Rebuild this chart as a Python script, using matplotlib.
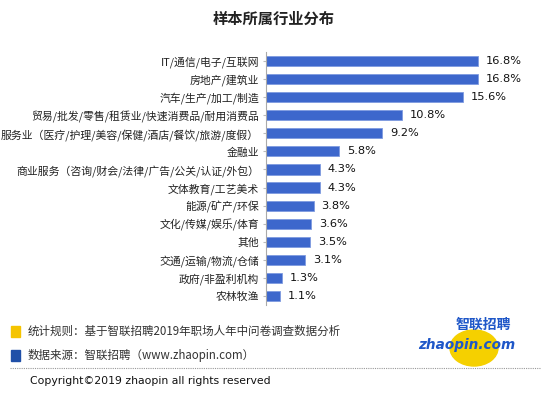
import matplotlib

matplotlib.use("Agg")

import matplotlib.pyplot as plt
from matplotlib.patches import Rectangle, Ellipse
from matplotlib.lines import Line2D

plt.rcParams["font.family"] = ["Noto Sans CJK SC", "DejaVu Sans"]

industries = [
    "IT/通信/电子/互联网",
    "房地产/建筑业",
    "汽车/生产/加工/制造",
    "贸易/批发/零售/租赁业/快速消费品/耐用消费品",
    "服务业（医疗/护理/美容/保健/酒店/餐饮/旅游/度假）",
    "金融业",
    "商业服务（咨询/财会/法律/广告/公关/认证/外包）",
    "文体教育/工艺美术",
    "能源/矿产/环保",
    "文化/传媒/娱乐/体育",
    "其他",
    "交通/运输/物流/仓储",
    "政府/非盈利机构",
    "农林牧渔",
]
shares = [16.8, 16.8, 15.6, 10.8, 9.2, 5.8, 4.3, 4.3, 3.8, 3.6, 3.5, 3.1, 1.3, 1.1]

bar_color = "#3d67cc"

fig = plt.figure(figsize=(5.48, 3.94), dpi=100)
fig.patch.set_facecolor("white")

ax = fig.add_axes([266 / 548, 1 - 305 / 394, (520 - 266) / 548, (305 - 52) / 394])
pos = list(range(len(industries)))
ax.barh(pos, shares, height=0.56, color=bar_color, edgecolor="#7f9be0", linewidth=0.6)
ax.set_ylim(len(industries) - 0.5, -0.5)
ax.set_xlim(0, 20.1)
ax.set_yticks(pos)
ax.set_yticklabels(industries, fontsize=7.8, color="#222222")
ax.set_xticks([])
for s in ["top", "right", "bottom"]:
    ax.spines[s].set_visible(False)
ax.spines["left"].set_color("#aaaaaa")
ax.spines["left"].set_linewidth(0.8)
ax.tick_params(axis="y", length=2, color="#bbbbbb", pad=3)
for p, v in zip(pos, shares):
    ax.text(v + 0.6, p, f"{v}%", va="center", ha="left", fontsize=8.2,
            family=["DejaVu Sans"], color="#111111")

fig.text(0.5, 1 - 19 / 394, "样本所属行业分布", ha="center", va="center",
         fontsize=11, fontweight="bold", color="#222222")

# footer
fig.patches.append(Rectangle((11 / 548, 1 - 337 / 394), 9 / 548, 11 / 394,
                             transform=fig.transFigure, color="#f5c400"))
fig.patches.append(Rectangle((11 / 548, 1 - 361 / 394), 9 / 548, 11 / 394,
                             transform=fig.transFigure, color="#1f4fa8"))
fig.text(28 / 548, 1 - 331 / 394, "统计规则：基于智联招聘2019年职场人年中问卷调查数据分析",
         ha="left", va="center", fontsize=8.3, color="#333333")
fig.text(28 / 548, 1 - 355 / 394, "数据来源：智联招聘（www.zhaopin.com）",
         ha="left", va="center", fontsize=8.3, color="#333333")
fig.lines.append(Line2D([10 / 548, 540 / 548], [1 - 368 / 394, 1 - 368 / 394],
                        transform=fig.transFigure, color="#999999",
                        linewidth=0.8, linestyle=(0, (1, 1))))
fig.text(30 / 548, 1 - 381 / 394, "Copyright©2019 zhaopin all rights reserved",
         ha="left", va="center", fontsize=7.8, color="#111111", family=["DejaVu Sans"])

# logo
fig.patches.append(Ellipse((474 / 548, 1 - 348 / 394), 48 / 548, 36 / 394,
                           transform=fig.transFigure, color="#f5d000"))
fig.text(483 / 548, 1 - 325 / 394, "智联招聘", ha="center", va="center",
         fontsize=10, fontweight="bold", color="#1f57c8", style="italic")
fig.text(467 / 548, 1 - 345 / 394, "zhaopin.com", ha="center", va="center",
         fontsize=9.8, fontweight="bold", color="#1f57c8", style="italic",
         family=["DejaVu Sans"])

fig.savefig("out.png", dpi=100)
